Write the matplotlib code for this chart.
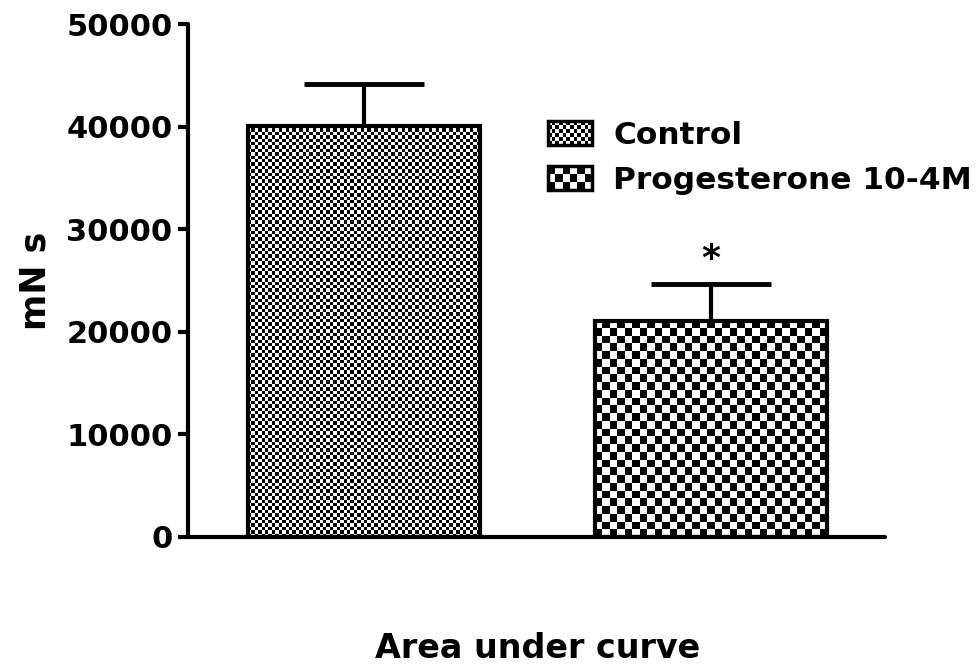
import numpy as np
import matplotlib
matplotlib.use('Agg')
import matplotlib.pyplot as plt
from matplotlib.patches import Rectangle
from matplotlib.legend_handler import HandlerBase

plt.rcParams['font.family'] = ['DejaVu Sans']
plt.rcParams['font.weight'] = 'bold'

groups = ['Control', 'Progesterone 10-4M']
means = [40100, 21100]
sem = [4100, 3600]
cell_px = [3.4, 7.6]      # checker cell size in pixels for each fill
star_labels = ['', '*']


def checker(n_x, n_y):
    yy, xx = np.mgrid[0:n_y, 0:n_x]
    return ((xx + yy) % 2).astype(float)


class CheckerHandler(HandlerBase):
    def __init__(self, nx, ny):
        super().__init__()
        self.nx = nx
        self.ny = ny

    def create_artists(self, legend, orig_handle, xdescent, ydescent,
                       width, height, fontsize, trans):
        arts = []
        cw = width / self.nx
        ch = height / self.ny
        for i in range(self.nx):
            for j in range(self.ny):
                if (i + j) % 2 == 0:
                    arts.append(Rectangle((-xdescent + i * cw, -ydescent + j * ch), cw, ch,
                                          facecolor='black', edgecolor='none', transform=trans))
        arts.append(Rectangle((-xdescent, -ydescent), width, height, facecolor='none',
                              edgecolor='black', linewidth=2.5, transform=trans))
        return arts


fig = plt.figure(figsize=(9.78, 6.72), dpi=100)
ax = fig.add_axes([0.192, 0.201, 0.713, 0.763])

x = np.array([1, 2])
width = 0.668
xlim = (0.493, 2.501)
ax.set_xlim(*xlim)
ax.set_ylim(0, 50000)

err = ax.errorbar(x, means, yerr=[[0, 0], sem], fmt='none', ecolor='black',
                  elinewidth=3, capsize=43, capthick=3.5, zorder=1)
for cap in err[1]:
    cap.set_solid_capstyle('round')
bars = ax.bar(x, means, width=width, facecolor='none', edgecolor='black',
              linewidth=3, zorder=3)

# checkerboard fill clipped to each bar
ax_px = ax.get_window_extent()
px_per_x = ax_px.width / (xlim[1] - xlim[0])
px_per_y = ax_px.height / 50000
for bar, m, c in zip(bars, means, cell_px):
    nx = int(round(width * px_per_x / c))
    ny = int(round(m * px_per_y / c))
    x0 = bar.get_x()
    im = ax.imshow(checker(nx, ny), cmap='gray', interpolation='nearest',
                   extent=[x0, x0 + width, 0, m], origin='lower',
                   aspect='auto', zorder=2)
    im.set_clip_path(bar)
ax.set_xlim(*xlim)
ax.set_ylim(0, 50000)

for xi, m, s, lab in zip(x, means, sem, star_labels):
    if lab:
        ax.text(xi, m + s + 2400, lab, ha='center', va='center', fontsize=26, fontweight='bold')

for side in ['top', 'right']:
    ax.spines[side].set_visible(False)
for side in ['left', 'bottom']:
    ax.spines[side].set_linewidth(3)
    ax.spines[side].set_capstyle('round')

ax.set_xticks([])
ax.set_yticks(range(0, 50001, 10000))
ax.tick_params(axis='y', length=7, width=3, labelsize=22, pad=4)
for t in ax.get_yticklabels():
    t.set_fontweight('bold')

ax.set_ylabel('mN s', fontsize=25, fontweight='bold', labelpad=10)
fig.text(0.55, 0.035, 'Area under curve', ha='center', va='center', fontsize=24, fontweight='bold')

h1 = Rectangle((0, 0), 1, 1)
h2 = Rectangle((0, 0), 1, 1)
ax.legend([h1, h2], groups, loc='upper left', bbox_to_anchor=(0.476, 0.866),
          frameon=False, fontsize=22.5, handlelength=1.42, handleheight=0.8,
          handletextpad=0.68, labelspacing=0.5,
          handler_map={h1: CheckerHandler(12, 6), h2: CheckerHandler(6, 3)})

fig.savefig('out.png', dpi=100)
